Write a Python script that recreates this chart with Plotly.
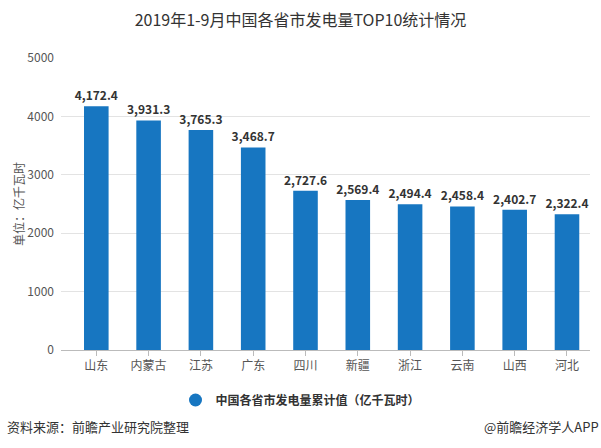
import plotly.graph_objects as go

provinces = ["山东", "内蒙古", "江苏", "广东", "四川", "新疆", "浙江", "云南", "山西", "河北"]
generation = [4172.4, 3931.3, 3765.3, 3468.7, 2727.6, 2569.4, 2494.4, 2458.4, 2402.7, 2322.4]
y_ticks = [0, 1000, 2000, 3000, 4000, 5000]

series_name = "中国各省市发电量累计值（亿千瓦时）"
bar_color = "#1776C1"
font_family = "Noto Sans CJK SC, Microsoft YaHei, sans-serif"

labels = [f"{v:,.1f}" for v in generation]

fig = go.Figure()
fig.add_trace(go.Bar(
    x=provinces, y=generation,
    marker=dict(color=bar_color, line=dict(width=0)),
    text=labels, textposition="outside", constraintext="none",
    textfont=dict(size=12, color="#333333", family=font_family, weight="bold"),
    cliponaxis=False,
    showlegend=False,
    width=0.47,
))
fig.add_trace(go.Scatter(
    x=[None], y=[None], mode="markers",
    marker=dict(symbol="circle", size=13, color=bar_color),
    name=series_name, showlegend=True,
))

fig.update_layout(
    width=601, height=448,
    margin=dict(l=61, r=11, t=57.5, b=97.5),
    paper_bgcolor="white", plot_bgcolor="white",
    font=dict(family=font_family, color="#555555", size=12),
    title=dict(text="2019年1-9月中国各省市发电量TOP10统计情况",
               x=0.5, xanchor="center", xref="container",
               y=1 - 20 / 448, yanchor="middle", yref="container",
               font=dict(size=16, color="#333333", family=font_family)),
    xaxis=dict(
        range=[-0.675, 9.44],
        showline=True, linecolor="#bbbbbb", linewidth=1,
        ticks="outside", ticklen=5, tickcolor="#bbbbbb",
        tickfont=dict(size=12, color="#555555"),
        showgrid=False, fixedrange=True,
    ),
    yaxis=dict(
        range=[0, 5000], tickvals=y_ticks,
        showgrid=True, gridcolor="#e3e3e3", gridwidth=1,
        zeroline=False, showline=False,
        tickfont=dict(size=12, color="#555555"),
        ticklabelstandoff=6, fixedrange=True,
        title=dict(text="单位：亿千瓦时", font=dict(size=12, color="#555555"), standoff=0),
    ),
    showlegend=True,
    legend=dict(orientation="h", xref="container", x=0.5, xanchor="center",
                yref="container", y=1 - 400 / 448, yanchor="middle",
                font=dict(size=12, color="#333333", family=font_family, weight="bold"),
                itemwidth=30, bgcolor="rgba(0,0,0,0)"),
    bargap=0.53,
)

fig.add_annotation(text="资料来源：前瞻产业研究院整理", xref="paper", yref="paper",
                   x=-56 / 529, y=-(427 - 350.5) / 292.5, xanchor="left", yanchor="middle",
                   showarrow=False,
                   font=dict(size=13, color="#333333", family=font_family))
fig.add_annotation(text="@前瞻经济学人APP", xref="paper", yref="paper",
                   x=(601 - 61) / 529, y=-(427 - 350.5) / 292.5, xanchor="right", yanchor="middle",
                   showarrow=False,
                   font=dict(size=13, color="#333333", family=font_family))

fig.write_html("out.html", config={"displayModeBar": False},
               post_script="document.body.style.margin='0px';")
